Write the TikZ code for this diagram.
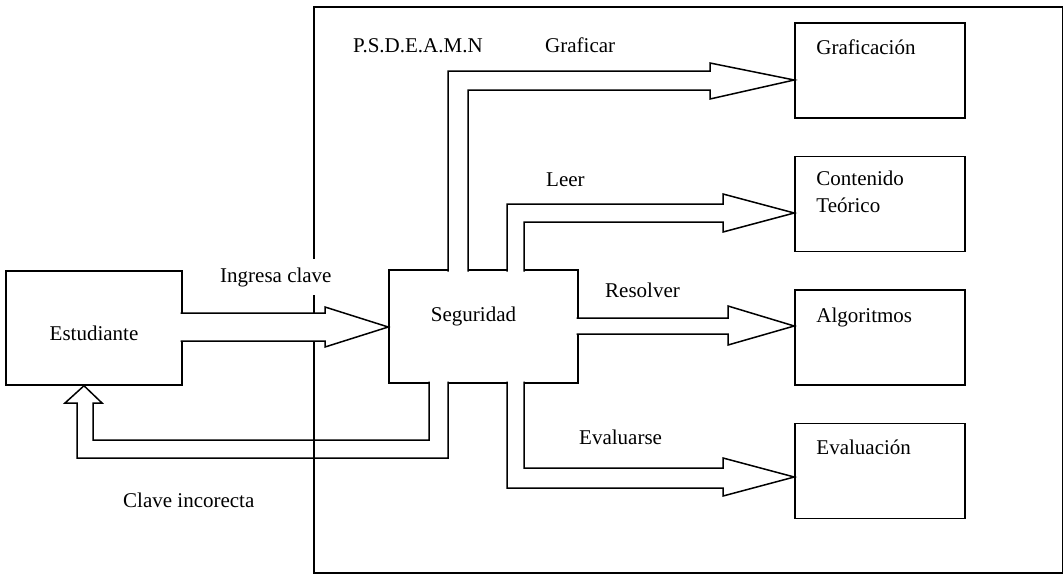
\documentclass[tikz,border=0pt]{standalone}
\usepackage{fontspec}
\setmainfont{Liberation Serif}
\usetikzlibrary{positioning, calc}

\begin{document}
\begin{tikzpicture}[x=1pt, y=-1pt, font=\fontsize{21}{25}\selectfont,
    box/.style={rectangle, draw=black, line width=1.5pt, inner sep=0pt},
    tbox/.style={box, minimum width=170pt, minimum height=95pt},
    tlab/.style={anchor=base west, inner sep=0pt, xshift=22pt},
    lab/.style={anchor=base west, inner sep=0pt},
    barrow/.style={draw=black, line width=1.5pt, fill=white, line join=miter}]

    \useasboundingbox (0,0) rectangle (1063,574);

    \node[box, minimum width=176pt, minimum height=114pt, label={[yshift=-5pt]center:Estudiante}] (est) at (94,328) {};
    \node[box, minimum width=189pt, minimum height=113pt, label={[xshift=-10pt, yshift=10.5pt]center:Seguridad}] (seg) at (483.5,326.5) {};
    \node[tbox, label={[tlab, yshift=-32pt]north west:Graficación}] (graf) at (880,70.5) {};
    \node[tbox, below=37pt of graf, label={[tlab, yshift=-30pt]north west:Contenido}, label={[tlab, yshift=-57pt]north west:Teórico}] (cont) {};
    \node[tbox, below=37pt of cont, label={[tlab, yshift=-33pt]north west:Algoritmos}] (algo) {};
    \node[tbox, below=37pt of algo, label={[tlab, yshift=-32pt]north west:Evaluación}] (eval) {};

    \filldraw[barrow] (448,381.5) -- (448,458) -- (77,458) -- (77,403) -- (65,403) -- (84,0 |- est.south)
        -- (102,403) -- (93,403) -- (93,440) -- (429,440) -- (429,381.5);

    \node[box, minimum width=749pt, minimum height=566pt, anchor=north west] (sys) at (313,6) {};

    \filldraw[barrow] (180.5,313) -- (325,313) -- (325,307) -- (seg.west |- 0,327) -- (325,347) -- (325,341) -- (180.5,341);
    \filldraw[barrow] (448,271.5) -- (448,71) -- (710,71) -- (710,63) -- (graf.west |- 0,80) -- (710,99) -- (710,90) -- (468,90) -- (468,271.5);
    \filldraw[barrow] (507,271.5) -- (507,204) -- (723,204) -- (723,194) -- (cont.west |- 0,213) -- (723,232) -- (723,222) -- (524,222) -- (524,271.5);
    \filldraw[barrow] (576.5,318) -- (728,318) -- (728,306) -- (algo.west |- 0,326) -- (728,345) -- (728,334) -- (576.5,334);
    \filldraw[barrow] (507,381.5) -- (507,488) -- (723,488) -- (723,496) -- (eval.west |- 0,477) -- (723,458) -- (723,468) -- (524,468) -- (524,381.5);

    \node[lab] (psd) at (353,52) {P.S.D.E.A.M.N};
    \node[lab] (lgraf) at (545,52) {Graficar};
    \node[lab] (lleer) at (546,186) {Leer};
    \node[lab] (lres) at (605,297) {Resolver};
    \node[lab] (leval) at (579,444) {Evaluarse};
    \node[lab, fill=white, inner ysep=8pt] (ling) at (220,282) {Ingresa clave};
    \node[lab] (lclave) at (123,507) {Clave incorecta};
\end{tikzpicture}
\end{document}
